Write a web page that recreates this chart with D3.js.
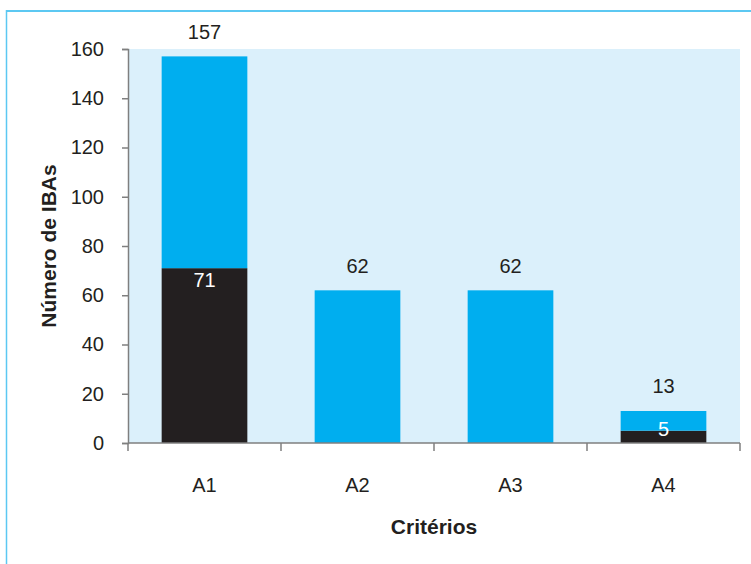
<!DOCTYPE html>
<html>
<head>
<meta charset="utf-8">
<script src="https://cdn.jsdelivr.net/npm/d3@7"></script>
<style>
  html, body { margin: 0; padding: 0; background: #ffffff; }
  svg { display: block; font-family: "Liberation Sans", Arial, sans-serif; }
</style>
</head>
<body>
<svg id="chart" width="751" height="564"></svg>
<script>
// Number of IBAs per criterion, split into two stacked parts
const categories = ["A1", "A2", "A3", "A4"];
const darkValues = [71, 0, 0, 5];
const lightValues = [86, 62, 62, 8];
const totals = [157, 62, 62, 13];
const yTicks = [0, 20, 40, 60, 80, 100, 120, 140, 160];

const svg = d3.select("#chart");
const margin = { left: 128, right: 11, top: 49, bottom: 121 };
const W = 751, H = 564;
const plotW = W - margin.left - margin.right;
const plotH = H - margin.top - margin.bottom;
const textColor = "#231f20";
const axisColor = "#7f7f7f";

// frame lines
svg.append("line").attr("x1", 6).attr("x2", W).attr("y1", 11).attr("y2", 11)
  .attr("stroke", "#5cc8f2").attr("stroke-width", 2);
svg.append("line").attr("x1", 6.5).attr("x2", 6.5).attr("y1", 10).attr("y2", H)
  .attr("stroke", "#5cc8f2").attr("stroke-width", 1.5);

const g = svg.append("g").attr("transform", `translate(${margin.left},${margin.top})`);

const x = d3.scaleBand().domain(categories).range([0, plotW]).paddingInner(0.44).paddingOuter(0.22);
const xOuter = d3.scaleBand().domain(categories).range([0, plotW]);
const y = d3.scaleLinear().domain([0, 160]).range([plotH, 0]);

g.append("rect").attr("width", plotW).attr("height", plotH).attr("fill", "#dbf0fb");

const stackData = categories.map((c, i) => ({ cat: c, dark: darkValues[i], light: lightValues[i] }));
const stack = d3.stack().keys(["dark", "light"])(stackData);
const colors = { dark: "#231f20", light: "#00aeef" };

stack.forEach(layer => {
  g.selectAll(null).data(layer).enter().append("rect")
    .attr("x", d => x(d.data.cat))
    .attr("width", x.bandwidth())
    .attr("y", d => y(d[1]))
    .attr("height", d => y(d[0]) - y(d[1]))
    .attr("fill", colors[layer.key]);
});

// y axis
const yAxis = g.append("g").call(d3.axisLeft(y).tickValues(yTicks).tickSize(6).tickPadding(18));
yAxis.selectAll("path, line").attr("stroke", axisColor).attr("stroke-width", 1.5);
yAxis.selectAll("text").attr("font-size", 20).attr("fill", textColor)
  .attr("font-family", "Liberation Sans, Arial, sans-serif");

// x axis with ticks at category boundaries
const xAxisG = g.append("g").attr("transform", `translate(0,${plotH})`);
xAxisG.append("line").attr("x1", 0).attr("x2", plotW).attr("stroke", axisColor).attr("stroke-width", 1.5);
const bounds = categories.map(c => xOuter(c)).concat([plotW]);
xAxisG.selectAll("line.tick").data(bounds).enter().append("line")
  .attr("class", "tick")
  .attr("x1", d => d).attr("x2", d => d).attr("y1", 0).attr("y2", 8)
  .attr("stroke", axisColor).attr("stroke-width", 1.5);
xAxisG.selectAll("text").data(categories).enter().append("text")
  .attr("x", d => xOuter(d) + xOuter.bandwidth() / 2)
  .attr("y", 49)
  .attr("text-anchor", "middle")
  .attr("font-size", 20).attr("fill", textColor)
  .text(d => d);

// total labels above bars
g.selectAll("text.total").data(categories).enter().append("text")
  .attr("class", "total")
  .attr("x", d => x(d) + x.bandwidth() / 2)
  .attr("y", (d, i) => y(totals[i]) - 17.5)
  .attr("text-anchor", "middle")
  .attr("font-size", 20).attr("fill", textColor)
  .text((d, i) => totals[i]);

// dark segment labels, inside the segment near its top
g.selectAll("text.inner").data(categories.filter((c, i) => darkValues[i] > 0)).enter().append("text")
  .attr("class", "inner")
  .attr("x", d => x(d) + x.bandwidth() / 2)
  .attr("y", d => Math.min(y(darkValues[categories.indexOf(d)]) + 19, y(0) - 7))
  .attr("text-anchor", "middle")
  .attr("font-size", 20).attr("fill", "#ffffff")
  .text(d => darkValues[categories.indexOf(d)]);

// axis titles
svg.append("text")
  .attr("transform", `translate(56,${margin.top + plotH / 2}) rotate(-90)`)
  .attr("text-anchor", "middle")
  .attr("font-size", 21).attr("font-weight", "bold").attr("fill", textColor)
  .text("Número de IBAs");
svg.append("text")
  .attr("x", margin.left + plotW / 2)
  .attr("y", 534)
  .attr("text-anchor", "middle")
  .attr("font-size", 21).attr("font-weight", "bold").attr("fill", textColor)
  .text("Critérios");
</script>
</body>
</html>
